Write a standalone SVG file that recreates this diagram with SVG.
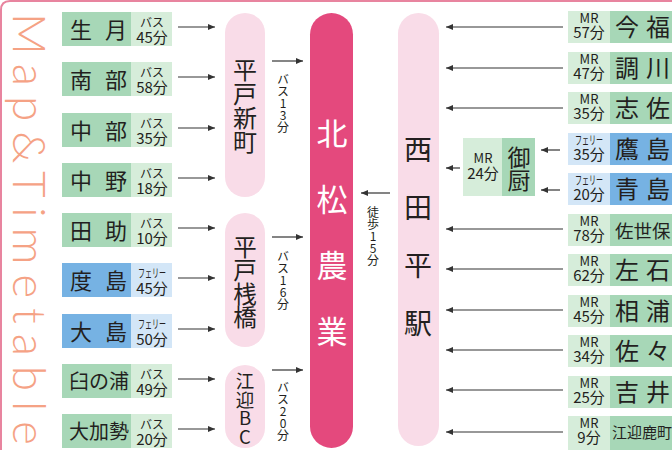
<svg xmlns="http://www.w3.org/2000/svg" width="672" height="450" viewBox="0 0 672 450">
<defs>
<marker id="ah" markerUnits="userSpaceOnUse" markerWidth="8" markerHeight="6" refX="7" refY="3" orient="auto">
<path d="M0,0 L7,3 L0,6 z" fill="#333"/>
</marker>
<style>
.t{font-family:"Noto Sans CJK JP","Noto Sans",sans-serif;fill:#231f20}
.c{text-anchor:middle}
.v{writing-mode:vertical-rl;text-orientation:upright}
.nm{font-size:22px}
.nm3{font-size:20px}
.rn{font-size:24px}
.sm{font-size:12px}
.mr{font-size:13px}
.md{font-size:15px}
.vt{font-size:12px}
.g1{fill:#a7d7b7}
.g2{fill:#d6edda}
.b1{fill:#76b2e3}
.b2{fill:#d3e6f7}
.pill{fill:#f9dce8}
.main{fill:#e4497d}
.ar{stroke:#333;stroke-width:1.2;fill:none;marker-end:url(#ah)}
</style>
</defs>
<rect x="0" y="0" width="672" height="450" fill="#ffffff"/>
<path d="M1,450 V10 Q1,1 10,1 H672" fill="none" stroke="#e8849f" stroke-width="2"/>
<text class="t" transform="translate(13,13) rotate(90)" style="font-family:Lato,'Open Sans',sans-serif;font-weight:300;font-size:46px;fill:#f5a285" textLength="432" lengthAdjust="spacing">Map&amp;Timetable</text>

<!-- left column -->
<g id="ikitsuki"><rect class="g1" x="62" y="12" width="69" height="34"/><rect class="g2" x="131" y="12" width="41" height="34"/><text class="t nm c" y="38"><tspan x="81">生</tspan><tspan x="116">月</tspan></text><text class="t c"><tspan class="sm" x="152" y="27">バス</tspan><tspan class="md" x="152" y="43">45分</tspan></text></g>
<g id="nanbu"><rect class="g1" x="62" y="62" width="69" height="34"/><rect class="g2" x="131" y="62" width="41" height="34"/><text class="t nm c" y="88"><tspan x="81">南</tspan><tspan x="116">部</tspan></text><text class="t c"><tspan class="sm" x="152" y="77">バス</tspan><tspan class="md" x="152" y="93">58分</tspan></text></g>
<g id="chubu"><rect class="g1" x="62" y="113" width="69" height="34"/><rect class="g2" x="131" y="113" width="41" height="34"/><text class="t nm c" y="139"><tspan x="81">中</tspan><tspan x="116">部</tspan></text><text class="t c"><tspan class="sm" x="152" y="128">バス</tspan><tspan class="md" x="152" y="144">35分</tspan></text></g>
<g id="nakano"><rect class="g1" x="62" y="163" width="69" height="34"/><rect class="g2" x="131" y="163" width="41" height="34"/><text class="t nm c" y="189"><tspan x="81">中</tspan><tspan x="116">野</tspan></text><text class="t c"><tspan class="sm" x="152" y="178">バス</tspan><tspan class="md" x="152" y="194">18分</tspan></text></g>
<g id="tasuke"><rect class="g1" x="62" y="213" width="69" height="34"/><rect class="g2" x="131" y="213" width="41" height="34"/><text class="t nm c" y="239"><tspan x="81">田</tspan><tspan x="116">助</tspan></text><text class="t c"><tspan class="sm" x="152" y="228">バス</tspan><tspan class="md" x="152" y="244">10分</tspan></text></g>
<g id="takushima"><rect class="b1" x="62" y="263" width="69" height="34"/><rect class="b2" x="131" y="263" width="41" height="34"/><text class="t nm c" y="289"><tspan x="81">度</tspan><tspan x="116">島</tspan></text><text class="t c"><tspan class="sm" x="152" y="278" textLength="28" lengthAdjust="spacingAndGlyphs">フェリー</tspan><tspan class="md" x="152" y="294">45分</tspan></text></g>
<g id="oshima"><rect class="b1" x="62" y="314" width="69" height="34"/><rect class="b2" x="131" y="314" width="41" height="34"/><text class="t nm c" y="340"><tspan x="81">大</tspan><tspan x="116">島</tspan></text><text class="t c"><tspan class="sm" x="152" y="329" textLength="28" lengthAdjust="spacingAndGlyphs">フェリー</tspan><tspan class="md" x="152" y="345">50分</tspan></text></g>
<g id="usunoura"><rect class="g1" x="62" y="364" width="69" height="34"/><rect class="g2" x="131" y="364" width="41" height="34"/><text class="t nm3 c" x="99" y="389">臼の浦</text><text class="t c"><tspan class="sm" x="152" y="379">バス</tspan><tspan class="md" x="152" y="395">49分</tspan></text></g>
<g id="okaze"><rect class="g1" x="62" y="414" width="69" height="34"/><rect class="g2" x="131" y="414" width="41" height="34"/><text class="t nm3 c" x="99" y="439">大加勢</text><text class="t c"><tspan class="sm" x="152" y="429">バス</tspan><tspan class="md" x="152" y="445">20分</tspan></text></g>

<!-- middle pills -->
<g id="hirado-shinmachi"><rect class="pill" x="225" y="13" width="40" height="184" rx="20"/><text class="t v" x="245" y="58" style="font-size:24px">平戸新町</text></g>
<g id="hirado-sanbashi"><rect class="pill" x="225" y="213" width="40" height="134" rx="20"/><text class="t v" x="245" y="235" style="font-size:23.5px">平戸桟橋</text></g>
<g id="emukae-bc"><rect class="pill" x="225" y="365" width="40" height="83" rx="20"/><text class="t v" x="245" y="372" style="font-size:18.5px">江迎BC</text></g>
<g id="hokusho-nogyo"><rect class="main" x="310" y="13" width="43" height="435" rx="21.5"/><text class="t v" x="332" y="117.5" style="fill:#ffffff;font-size:31px;letter-spacing:35px">北松農業</text></g>
<g id="nishitabira"><rect class="pill" x="398" y="13" width="41" height="433" rx="20.5"/><text class="t v" x="418" y="135" style="font-size:28px;letter-spacing:30px">西田平駅</text></g>
<g id="mikuriya"><rect class="g2" x="463" y="138" width="39" height="58"/><rect class="g1" x="502" y="138" width="33" height="58"/><text class="t c"><tspan class="mr" x="483" y="163">MR</tspan><tspan class="md" x="483" y="179">24分</tspan></text><text class="t v" x="519" y="145.5" style="font-size:23px">御厨</text></g>

<!-- right column -->
<g id="imafuku"><rect class="g2" x="568" y="11" width="42" height="32"/><rect class="g1" x="610" y="11" width="62" height="32"/><text class="t c"><tspan class="mr" x="589" y="23">MR</tspan><tspan class="md" x="589" y="38">57分</tspan></text><text class="t rn c" y="36"><tspan x="627">今</tspan><tspan x="658">福</tspan></text></g>
<g id="tsukinokawa"><rect class="g2" x="568" y="52" width="42" height="32"/><rect class="g1" x="610" y="52" width="62" height="32"/><text class="t c"><tspan class="mr" x="589" y="64">MR</tspan><tspan class="md" x="589" y="79">47分</tspan></text><text class="t rn c" y="77"><tspan x="627">調</tspan><tspan x="658">川</tspan></text></g>
<g id="saza"><rect class="g2" x="568" y="92" width="42" height="32"/><rect class="g1" x="610" y="92" width="62" height="32"/><text class="t c"><tspan class="mr" x="589" y="104">MR</tspan><tspan class="md" x="589" y="119">35分</tspan></text><text class="t rn c" y="117"><tspan x="627">志</tspan><tspan x="658">佐</tspan></text></g>
<g id="takashima"><rect class="b2" x="568" y="133" width="42" height="32"/><rect class="b1" x="610" y="133" width="62" height="32"/><text class="t c"><tspan class="sm" x="589" y="145" textLength="28" lengthAdjust="spacingAndGlyphs">フェリー</tspan><tspan class="md" x="589" y="160">35分</tspan></text><text class="t rn c" y="158"><tspan x="627">鷹</tspan><tspan x="658">島</tspan></text></g>
<g id="aoshima"><rect class="b2" x="568" y="173" width="42" height="32"/><rect class="b1" x="610" y="173" width="62" height="32"/><text class="t c"><tspan class="sm" x="589" y="185" textLength="28" lengthAdjust="spacingAndGlyphs">フェリー</tspan><tspan class="md" x="589" y="200">20分</tspan></text><text class="t rn c" y="198"><tspan x="627">青</tspan><tspan x="658">島</tspan></text></g>
<g id="sasebo"><rect class="g2" x="568" y="214" width="42" height="32"/><rect class="g1" x="610" y="214" width="62" height="32"/><text class="t c"><tspan class="mr" x="589" y="226">MR</tspan><tspan class="md" x="589" y="241">78分</tspan></text><text class="t" x="615" y="238" style="font-size:18.5px">佐世保</text></g>
<g id="hidariishi"><rect class="g2" x="568" y="254" width="42" height="32"/><rect class="g1" x="610" y="254" width="62" height="32"/><text class="t c"><tspan class="mr" x="589" y="266">MR</tspan><tspan class="md" x="589" y="281">62分</tspan></text><text class="t rn c" y="279"><tspan x="627">左</tspan><tspan x="658">石</tspan></text></g>
<g id="ainoura"><rect class="g2" x="568" y="295" width="42" height="32"/><rect class="g1" x="610" y="295" width="62" height="32"/><text class="t c"><tspan class="mr" x="589" y="307">MR</tspan><tspan class="md" x="589" y="322">45分</tspan></text><text class="t rn c" y="320"><tspan x="627">相</tspan><tspan x="658">浦</tspan></text></g>
<g id="sazasaza"><rect class="g2" x="568" y="335" width="42" height="32"/><rect class="g1" x="610" y="335" width="62" height="32"/><text class="t c"><tspan class="mr" x="589" y="347">MR</tspan><tspan class="md" x="589" y="362">34分</tspan></text><text class="t rn c" y="360"><tspan x="627">佐</tspan><tspan x="658">々</tspan></text></g>
<g id="yoshii"><rect class="g2" x="568" y="376" width="42" height="32"/><rect class="g1" x="610" y="376" width="62" height="32"/><text class="t c"><tspan class="mr" x="589" y="388">MR</tspan><tspan class="md" x="589" y="403">25分</tspan></text><text class="t rn c" y="401"><tspan x="627">吉</tspan><tspan x="658">井</tspan></text></g>
<g id="emukae-shikamachi"><rect class="g2" x="568" y="416" width="42" height="34"/><rect class="g1" x="610" y="416" width="62" height="34"/><text class="t c"><tspan class="mr" x="589" y="428">MR</tspan><tspan class="md" x="589" y="443">9分</tspan></text><text class="t" x="612" y="438" style="font-size:15px">江迎鹿町</text></g>

<!-- connectors -->
<g id="connectors">
<line class="ar" x1="178" y1="27" x2="215" y2="27"/>
<line class="ar" x1="178" y1="77" x2="215" y2="77"/>
<line class="ar" x1="178" y1="128" x2="215" y2="128"/>
<line class="ar" x1="178" y1="178" x2="215" y2="178"/>
<line class="ar" x1="178" y1="228" x2="215" y2="228"/>
<line class="ar" x1="178" y1="278" x2="215" y2="278"/>
<line class="ar" x1="178" y1="329" x2="215" y2="329"/>
<line class="ar" x1="178" y1="379" x2="215" y2="379"/>
<line class="ar" x1="178" y1="429" x2="215" y2="429"/>
<line class="ar" x1="272" y1="61" x2="303" y2="61"/>
<line class="ar" x1="272" y1="237" x2="303" y2="237"/>
<line class="ar" x1="272" y1="370" x2="303" y2="370"/>
<line class="ar" x1="390" y1="193" x2="361" y2="193"/>
<line class="ar" x1="563" y1="27" x2="446" y2="27"/>
<line class="ar" x1="563" y1="68" x2="446" y2="68"/>
<line class="ar" x1="563" y1="108" x2="446" y2="108"/>
<line class="ar" x1="560" y1="150" x2="541" y2="150"/>
<line class="ar" x1="560" y1="190" x2="541" y2="190"/>
<line class="ar" x1="460" y1="168" x2="446" y2="168"/>
<line class="ar" x1="563" y1="229" x2="446" y2="229"/>
<line class="ar" x1="563" y1="269" x2="446" y2="269"/>
<line class="ar" x1="563" y1="310" x2="446" y2="310"/>
<line class="ar" x1="563" y1="350" x2="446" y2="350"/>
<line class="ar" x1="563" y1="390" x2="446" y2="390"/>
<line class="ar" x1="563" y1="432" x2="446" y2="432"/>
<text class="t vt v" x="283" y="73">バス13分</text>
<text class="t vt v" x="283" y="250">バス16分</text>
<text class="t vt v" x="283" y="381">バス20分</text>
<text class="t vt v" x="373" y="206">徒歩15分</text>
</g>
</svg>
